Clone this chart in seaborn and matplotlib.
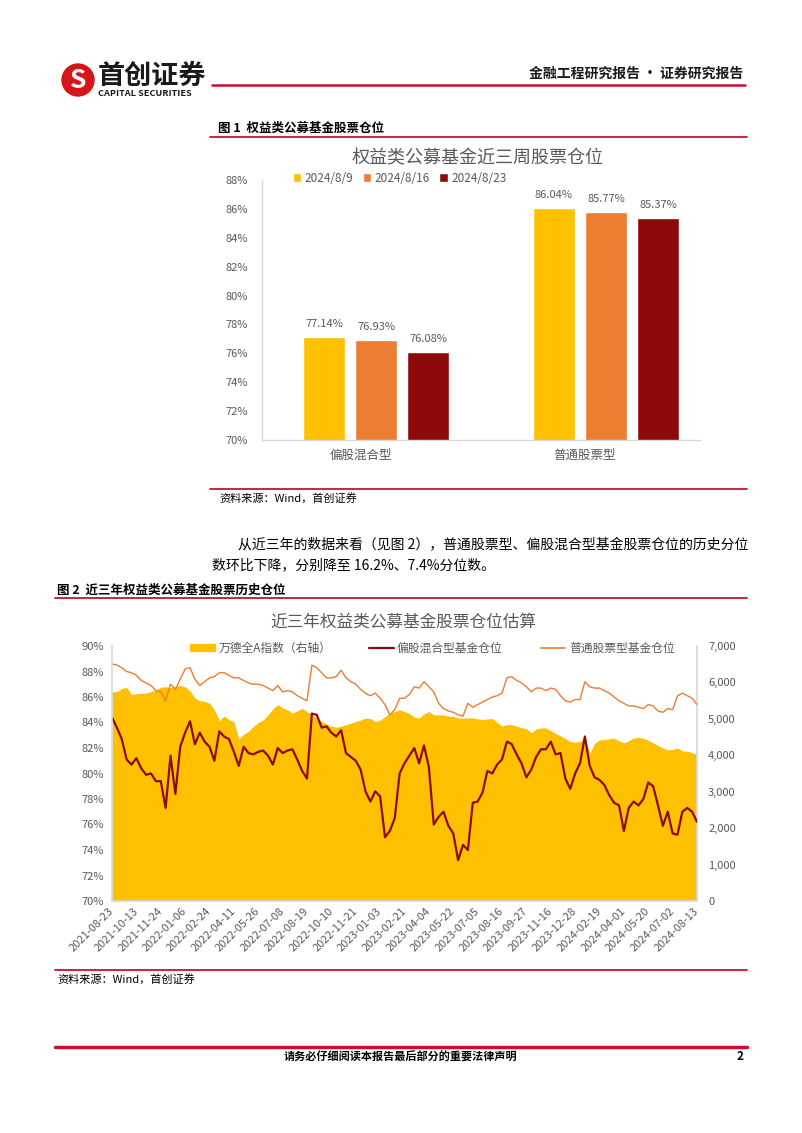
import matplotlib
matplotlib.use('Agg')
import matplotlib.pyplot as plt
from matplotlib.lines import Line2D
from matplotlib.patches import Patch
from matplotlib.ticker import FuncFormatter
import seaborn as sns
import pandas as pd
import numpy as np

sns.set_theme(style='white')
plt.rcParams['font.family'] = ['Noto Sans CJK SC', 'DejaVu Sans']
plt.rcParams['axes.unicode_minus'] = False

# ---- 图1 数据 ----
fund_types = ['偏股混合型', '普通股票型']
weeks = ['2024/8/9', '2024/8/16', '2024/8/23']
pos_mixed = [77.14, 76.93, 76.08]
pos_stock = [86.04, 85.77, 85.37]

# ---- 图2 数据 ----
date_ticks = ['2021-08-23', '2021-10-13', '2021-11-24', '2022-01-06', '2022-02-24',
              '2022-04-11', '2022-05-26', '2022-07-08', '2022-08-19', '2022-10-10',
              '2022-11-21', '2023-01-03', '2023-02-21', '2023-04-04', '2023-05-22',
              '2023-07-05', '2023-08-16', '2023-09-27', '2023-11-16', '2023-12-28',
              '2024-02-19', '2024-04-01', '2024-05-20', '2024-07-02', '2024-08-13']

mixed_hist = [84.4, 83.6, 82.7, 81.1, 80.7, 81.2, 80.4, 79.9, 80.0, 79.4,
              79.4, 77.3, 81.4, 78.4, 82.1, 83.2, 84.1, 82.3, 83.2, 82.5,
              82.1, 81.0, 83.3, 82.9, 82.7, 81.7, 80.6, 82.1, 81.6, 81.5,
              81.7, 81.8, 81.4, 80.7, 82.0, 81.6, 81.8, 81.9, 81.1, 80.2,
              79.6, 84.7, 84.6, 83.6, 83.7, 83.2, 82.9, 83.4, 81.6, 81.3,
              81.0, 80.3, 78.6, 77.8, 78.6, 78.2, 75.0, 75.5, 76.5, 80.0,
              80.8, 81.4, 82.0, 80.8, 82.2, 80.5, 76.0, 76.6, 77.0, 75.9,
              75.3, 73.2, 74.4, 74.0, 77.7, 77.8, 78.5, 80.2, 80.0, 80.7,
              81.1, 82.5, 82.3, 81.5, 80.8, 79.7, 80.3, 81.3, 81.9, 81.9,
              82.5, 81.5, 81.6, 79.6, 78.8, 80.0, 80.8, 82.9, 80.6, 79.7,
              79.5, 79.1, 78.3, 77.7, 77.5, 75.5, 77.3, 77.8, 77.5, 78.0,
              79.3, 79.0, 77.5, 75.9, 77.0, 75.3, 75.2, 77.0, 77.3, 77.0,
              76.2]

stock_hist = [88.6, 88.5, 88.3, 88.0, 87.9, 87.7, 87.3, 87.1, 86.9, 86.5,
              86.4, 85.7, 87.0, 86.6, 87.4, 88.2, 88.3, 87.4, 86.9, 87.2,
              87.5, 87.6, 87.9, 87.9, 87.7, 87.5, 87.5, 87.3, 87.1, 87.0,
              87.0, 86.9, 86.7, 86.5, 86.9, 86.4, 86.5, 86.4, 86.1, 85.9,
              85.7, 88.5, 88.3, 87.9, 87.5, 87.5, 87.6, 88.1, 87.5, 87.2,
              87.0, 86.6, 86.3, 86.1, 86.3, 85.9, 85.4, 84.6, 85.0, 85.9,
              85.9, 86.2, 86.8, 86.7, 87.2, 86.8, 86.4, 85.5, 85.1, 84.9,
              84.8, 84.6, 84.5, 85.5, 85.2, 85.4, 85.6, 85.8, 86.0, 86.1,
              86.3, 87.5, 87.6, 87.3, 87.1, 86.8, 86.4, 86.7, 86.7, 86.5,
              86.7, 86.6, 86.1, 85.7, 85.6, 85.8, 85.8, 87.2, 86.8, 86.7,
              86.7, 86.5, 86.3, 86.0, 85.7, 85.5, 85.3, 85.3, 85.2, 85.1,
              85.4, 85.3, 84.9, 84.8, 85.1, 85.0, 86.1, 86.3, 86.1, 85.9,
              85.4]

wind_a = [5750, 5740, 5840, 5860, 5670, 5690, 5700, 5710, 5750, 5790,
          5870, 5880, 5860, 5890, 5920, 5880, 5770, 5570, 5500, 5480,
          5430, 5250, 4950, 5080, 4980, 4920, 4450, 4580, 4660, 4790,
          4900, 4970, 5110, 5270, 5390, 5300, 5250, 5160, 5220, 5290,
          5200, 5110, 5040, 4930, 4860, 4800, 4770, 4800, 4840, 4880,
          4930, 4970, 5020, 5010, 4930, 4960, 5060, 5150, 5200, 5250,
          5200, 5150, 5050, 5020, 5140, 5200, 5110, 5110, 5110, 5070,
          5070, 5020, 5020, 5020, 5030, 5000, 4980, 5000, 5010, 4900,
          4800, 4840, 4840, 4800, 4760, 4730, 4620, 4720, 4750, 4750,
          4680, 4600, 4530, 4460, 4380, 4360, 4380, 4480, 4060, 4330,
          4420, 4430, 4450, 4470, 4400, 4340, 4400, 4470, 4490, 4470,
          4410, 4340, 4270, 4200, 4150, 4160, 4200, 4120, 4110, 4070,
          4020]

YELLOW, ORANGE, DARKRED = '#FFC000', '#ED7D31', '#8E0A0A'
GRAY, AXGRAY, RED = '#595959', '#D9D9D9', '#C8102E'

W, H = 802, 1133
fig = plt.figure(figsize=(W / 100, H / 100), dpi=100)
fig.patch.set_facecolor('white')


def fx(px):
    return px / W


def fy(py):
    return 1 - py / H


def hline(x0, x1, y, lw=1.2, color=RED):
    fig.add_artist(Line2D([fx(x0), fx(x1)], [fy(y), fy(y)], color=color, lw=lw,
                          transform=fig.transFigure))


# ---- 页眉 ----
fig.text(fx(78), fy(80), 'S', fontsize=19, color='white', weight='bold', ha='center', va='center',
         bbox=dict(boxstyle='circle,pad=0.12', fc='#D7141A', ec='none'))
fig.text(fx(98), fy(76), '首创证券', fontsize=19.5, weight='bold', color='#1A1A1A', ha='left', va='center')
fig.text(fx(98), fy(94), 'CAPITAL SECURITIES', fontsize=6.6, weight='bold', color='#1A1A1A', ha='left', va='center')
hline(212, 745, 85, lw=1.8)
fig.text(fx(743), fy(74), '金融工程研究报告 · 证券研究报告', fontsize=10, weight='bold', color='#1A1A1A',
         ha='right', va='center')

# ---- 图1 ----
fig.text(fx(218), fy(128), '图 1  权益类公募基金股票仓位', fontsize=9, weight='bold', color='black', va='center')
hline(210, 747, 137, lw=1.3)
fig.text(fx(478), fy(158), '权益类公募基金近三周股票仓位', fontsize=13, color=GRAY, ha='center', va='center')

df1 = pd.DataFrame({'类型': np.repeat(fund_types, len(weeks)),
                    '日期': weeks * len(fund_types),
                    '仓位': pos_mixed + pos_stock})
ax1 = fig.add_axes([fx(262), fy(440), fx(700) - fx(262), fy(180) - fy(440)])
sns.barplot(data=df1, x='类型', y='仓位', hue='日期', palette=[YELLOW, ORANGE, DARKRED],
            width=0.68, gap=0.2, ax=ax1, saturation=1)
for cont in ax1.containers:
    ax1.bar_label(cont, labels=[f'{v:.2f}%' for v in cont.datavalues], padding=6,
                  fontsize=8, color=GRAY)
ax1.set_ylim(70, 88)
ax1.set_yticks(np.arange(70, 89, 2))
ax1.yaxis.set_major_formatter(FuncFormatter(lambda v, p: f'{v:.0f}%'))
ax1.set_xlim(-0.496, 1.409)
# 分类标签略偏左，与原图一致
ax1.set_xticks([-0.065, 0.905])
ax1.set_xticklabels(fund_types)
ax1.set_xlabel('')
ax1.set_ylabel('')
ax1.tick_params(axis='y', labelsize=8, colors=GRAY, length=0, pad=10)
ax1.tick_params(axis='x', labelsize=9, colors=GRAY, length=0, pad=6)
for s in ['top', 'right']:
    ax1.spines[s].set_visible(False)
for s in ['left', 'bottom']:
    ax1.spines[s].set_color(AXGRAY)
    ax1.spines[s].set_linewidth(1)
ax1.legend(loc='upper left', bbox_to_anchor=(0.06, 1.05), ncol=3, frameon=False,
           handlelength=0.7, handleheight=0.7, handletextpad=0.3, columnspacing=0.8,
           fontsize=8.5, labelcolor=GRAY, borderaxespad=0)

hline(210, 747, 489, lw=1.3)
fig.text(fx(219), fy(498), '资料来源：Wind，首创证券', fontsize=8, style='italic', color='black', va='center')

fig.text(fx(238), fy(545), '从近三年的数据来看（见图 2），普通股票型、偏股混合型基金股票仓位的历史分位',
         fontsize=10, color='black', va='center')
fig.text(fx(212), fy(565), '数环比下降，分别降至 16.2%、7.4%分位数。', fontsize=10, color='black', va='center')

# ---- 图2 ----
fig.text(fx(57), fy(590), '图 2  近三年权益类公募基金股票历史仓位', fontsize=9, weight='bold', color='black', va='center')
hline(55, 747, 598, lw=1.3)
fig.text(fx(403), fy(622), '近三年权益类公募基金股票仓位估算', fontsize=12, color=GRAY, ha='center', va='center')

n = len(stock_hist)
df2 = pd.DataFrame({'idx': np.arange(n), '偏股混合型基金仓位': mixed_hist,
                    '普通股票型基金仓位': stock_hist, '万德全A指数': wind_a})
ax2 = fig.add_axes([fx(112), fy(901), fx(697) - fx(112), fy(646) - fy(901)])
axr = ax2.twinx()
axr.fill_between(df2['idx'], 0, df2['万德全A指数'], color=YELLOW, lw=0)
sns.lineplot(data=df2, x='idx', y='普通股票型基金仓位', ax=ax2, color=ORANGE, lw=1.0)
sns.lineplot(data=df2, x='idx', y='偏股混合型基金仓位', ax=ax2, color=DARKRED, lw=1.6)
ax2.set_zorder(axr.get_zorder() + 1)
ax2.patch.set_visible(False)

ax2.set_xlim(0, n - 1)
ax2.set_ylim(70, 90)
ax2.set_yticks(np.arange(70, 91, 2))
ax2.yaxis.set_major_formatter(FuncFormatter(lambda v, p: f'{v:.0f}%'))
axr.set_ylim(0, 7000)
axr.set_yticks(np.arange(0, 7001, 1000))
axr.yaxis.set_major_formatter(FuncFormatter(lambda v, p: f'{v:,.0f}'))
ax2.set_xticks(np.arange(0, n, 5))
ax2.set_xticklabels(date_ticks, rotation=45, ha='right', va='center', rotation_mode='anchor')
ax2.set_xlabel('')
ax2.set_ylabel('')
axr.set_ylabel('')
ax2.tick_params(axis='y', labelsize=8, colors=GRAY, length=0, pad=6)
axr.tick_params(axis='y', labelsize=8, colors=GRAY, length=0, pad=8)
ax2.tick_params(axis='x', labelsize=8, colors=GRAY, length=4, direction='inout', color=AXGRAY, pad=4)
for s in ['top', 'right']:
    ax2.spines[s].set_visible(False)
for s in ['left', 'bottom']:
    ax2.spines[s].set_color(AXGRAY)
for s in ['top', 'left', 'bottom']:
    axr.spines[s].set_visible(False)
axr.spines['right'].set_color(AXGRAY)

handles = [Patch(color=YELLOW), Line2D([], [], color=DARKRED, lw=1.6), Line2D([], [], color=ORANGE, lw=1.2)]
labels = ['万德全A指数（右轴）', '偏股混合型基金仓位', '普通股票型基金仓位']
ax2.legend(handles, labels, loc='center left', bbox_to_anchor=(0.133, 0.992), ncol=3, frameon=False,
           fontsize=8.5, labelcolor=GRAY, handlelength=2.1, handleheight=0.6, handletextpad=0.3,
           columnspacing=3.2, borderaxespad=0, borderpad=0)

hline(55, 747, 970, lw=1.3)
fig.text(fx(57), fy(979), '资料来源：Wind，首创证券', fontsize=8, style='italic', color='black', va='center')

# ---- 页脚 ----
hline(55, 747, 1047, lw=2.5)
fig.text(fx(400), fy(1057), '请务必仔细阅读本报告最后部分的重要法律声明', fontsize=8, weight='bold',
         color='black', ha='center', va='center')
fig.text(fx(740), fy(1057), '2', fontsize=8.5, weight='bold', color='black', ha='center', va='center')

fig.savefig('out.png', dpi=100)
